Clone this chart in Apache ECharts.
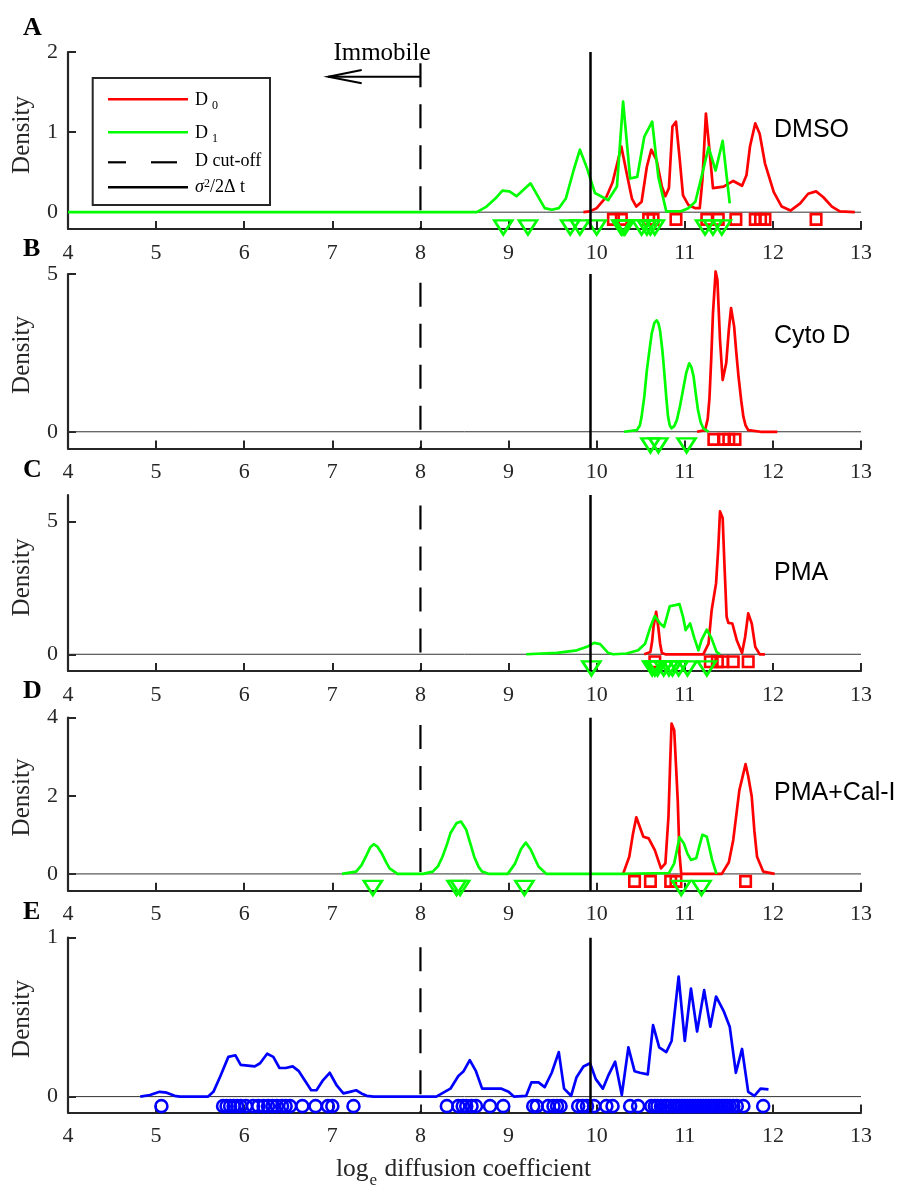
<!DOCTYPE html>
<html><head><meta charset="utf-8">
<script src="https://cdn.jsdelivr.net/npm/echarts@6/dist/echarts.min.js"></script>
<style>html,body{margin:0;padding:0;background:#fff}#c{width:899px;height:1189px}</style>
</head><body><div id="c"></div>
<script>
// ---------------- DATA ----------------
const xTickValues = [4,5,6,7,8,9,10,11,12,13];
const cutoffX = 8;      // D cut-off
const sigmaX = 9.93;    // sigma^2 / 2 Delta t

// Panel A — DMSO
const aD0 = [[9.85,0],[9.92,0.01],[10.0,0.05],[10.11,0.19],[10.18,0.37],[10.28,0.82],[10.34,0.49],[10.40,0.17],[10.45,0.07],[10.51,0.13],[10.57,0.57],[10.62,0.78],[10.68,0.65],[10.74,0.32],[10.78,0.20],[10.82,0.30],[10.86,1.07],[10.90,1.13],[10.94,0.69],[10.98,0.21],[11.04,0.09],[11.12,0.05],[11.17,0.05],[11.20,0.40],[11.24,1.23],[11.28,0.78],[11.32,0.30],[11.44,0.32],[11.55,0.39],[11.65,0.33],[11.70,0.46],[11.74,0.82],[11.80,1.11],[11.85,0.98],[11.91,0.61],[12.01,0.25],[12.10,0.07],[12.20,0.02],[12.31,0.11],[12.40,0.23],[12.49,0.26],[12.57,0.19],[12.67,0.07],[12.76,0.01],[12.93,0]];
const aD1 = [[4,0],[8.64,0],[8.75,0.07],[8.85,0.17],[8.93,0.27],[9.01,0.26],[9.09,0.20],[9.25,0.36],[9.41,0.05],[9.49,0.03],[9.57,0.05],[9.65,0.17],[9.74,0.53],[9.81,0.78],[9.89,0.55],[9.98,0.24],[10.13,0.15],[10.23,0.32],[10.30,1.38],[10.38,0.42],[10.46,0.44],[10.54,0.94],[10.63,1.13],[10.70,0.44],[10.79,0.01],[10.95,0.01],[11.04,0.05],[11.12,0.13],[11.19,0.44],[11.27,0.81],[11.35,0.52],[11.43,0.89],[11.51,0.11]];
const aD0marks = [10.19,10.28,10.59,10.64,10.90,11.25,11.38,11.58,11.80,11.86,11.91,12.49];
const aD1marks = [8.94,9.22,9.70,9.81,10.0,10.28,10.30,10.32,10.51,10.57,10.61,10.66,11.23,11.32,11.42];
const aYTicks = [0,1,2];

// Panel B — Cyto D
const bD0 = [[11.14,0],[11.23,0.05],[11.26,0.4],[11.28,1.06],[11.30,2.3],[11.32,3.76],[11.35,5.08],[11.37,4.82],[11.40,2.91],[11.43,1.64],[11.47,2.17],[11.50,3.23],[11.525,3.92],[11.56,3.34],[11.585,2.5],[11.61,1.75],[11.64,1.0],[11.665,0.48],[11.69,0.2],[11.72,0.05],[11.86,0],[12.05,0]];
const bD1 = [[10.31,0],[10.455,0.05],[10.49,0.2],[10.51,0.48],[10.54,1.1],[10.57,1.96],[10.60,2.6],[10.625,3.12],[10.655,3.45],[10.68,3.53],[10.70,3.45],[10.72,3.2],[10.745,2.6],[10.765,1.96],[10.79,1.1],[10.81,0.48],[10.83,0.2],[10.85,0.11],[10.88,0.18],[10.91,0.37],[10.945,0.8],[10.98,1.32],[11.015,1.85],[11.05,2.17],[11.075,2.05],[11.10,1.75],[11.125,1.2],[11.15,0.69],[11.18,0.3],[11.21,0.11],[11.27,0]];
const bD0marks = [11.33,11.44,11.50,11.57];
const bD1marks = [10.61,10.70,11.02];
const bYTicks = [0,5];

// Panel C — PMA
const cD0 = [[10.54,0],[10.61,0.09],[10.63,0.5],[10.645,1.03],[10.675,1.60],[10.70,1.0],[10.72,0.4],[10.74,0.05],[10.78,0],[11.21,0],[11.27,0.40],[11.305,1.66],[11.355,2.67],[11.38,4.0],[11.40,5.38],[11.43,5.13],[11.45,3.4],[11.475,1.41],[11.495,1.18],[11.54,1.16],[11.59,0.53],[11.65,0.05],[11.685,0.65],[11.72,1.54],[11.76,1.16],[11.80,0.28],[11.85,0],[11.91,0]];
const cD1 = [[9.20,0],[9.55,0.05],[9.775,0.15],[9.89,0.28],[9.97,0.43],[10.04,0.38],[10.13,0.05],[10.19,0],[10.34,0.03],[10.47,0.15],[10.55,0.40],[10.61,1.03],[10.66,1.44],[10.72,1.16],[10.765,1.03],[10.83,1.81],[10.89,1.85],[10.94,1.89],[10.98,1.41],[11.01,0.91],[11.06,1.16],[11.11,0.59],[11.155,0.15],[11.19,0.53],[11.25,0.93],[11.305,0.59],[11.36,0.09],[11.40,0]];
const cD0marks = [10.66,11.29,11.37,11.43,11.55,11.72];
const cD1marks = [9.94,10.63,10.66,10.69,10.76,10.82,10.86,10.93,11.03,11.25];
const cYTicks = [0,5];

// Panel D — PMA+Cal-I
const dD0 = [[10.30,0],[10.37,0.44],[10.41,1.0],[10.45,1.45],[10.49,1.2],[10.53,0.95],[10.59,0.91],[10.66,0.61],[10.73,0.14],[10.78,0.27],[10.815,1.47],[10.835,2.9],[10.85,3.85],[10.88,3.68],[10.90,2.8],[10.92,1.89],[10.94,0.5],[10.96,0],[11.42,0],[11.50,0.3],[11.55,0.87],[11.59,1.6],[11.62,2.15],[11.69,2.81],[11.72,2.5],[11.76,1.98],[11.79,1.1],[11.82,0.44],[11.89,0.06],[12.02,0]];
const dD1 = [[7.11,0],[7.27,0.06],[7.33,0.22],[7.38,0.44],[7.43,0.68],[7.47,0.76],[7.51,0.70],[7.56,0.53],[7.61,0.3],[7.65,0.14],[7.74,0],[8.03,0],[8.14,0.06],[8.20,0.2],[8.25,0.44],[8.30,0.75],[8.34,1.04],[8.41,1.30],[8.46,1.34],[8.52,1.13],[8.57,0.75],[8.61,0.44],[8.66,0.18],[8.70,0.06],[8.78,0],[8.99,0],[9.07,0.25],[9.14,0.63],[9.195,0.80],[9.25,0.63],[9.30,0.38],[9.34,0.19],[9.43,0],[10.30,0],[10.82,0.02],[10.88,0.27],[10.91,0.6],[10.94,0.94],[10.99,0.78],[11.03,0.52],[11.07,0.36],[11.13,0.40],[11.17,0.75],[11.20,1.0],[11.25,0.95],[11.28,0.66],[11.31,0.36],[11.36,0]];
const dD0marks = [10.43,10.61,10.84,10.90,11.69];
const dD1marks = [7.46,8.41,8.45,9.18,10.96,11.19];
const dYTicks = [0,2,4];

// Panel E — all tracks
const eAll = [[4.82,0],[4.93,0.01],[5.04,0.03],[5.12,0.025],[5.21,0.005],[5.27,0],[5.59,0],[5.65,0.03],[5.73,0.13],[5.82,0.25],[5.90,0.26],[5.96,0.20],[6.12,0.19],[6.18,0.21],[6.26,0.27],[6.33,0.25],[6.40,0.18],[6.47,0.18],[6.55,0.19],[6.62,0.16],[6.69,0.10],[6.76,0.04],[6.82,0.04],[6.89,0.10],[6.97,0.15],[7.05,0.07],[7.125,0.02],[7.20,0.03],[7.27,0.04],[7.33,0.02],[7.39,0.005],[7.47,0],[8.18,0],[8.34,0.05],[8.43,0.13],[8.49,0.16],[8.56,0.23],[8.63,0.16],[8.70,0.05],[8.79,0.05],[8.92,0.05],[9.00,0.03],[9.06,0],[9.20,0.005],[9.26,0.09],[9.34,0.09],[9.41,0.06],[9.49,0.15],[9.57,0.28],[9.63,0.05],[9.71,0.005],[9.77,0.12],[9.85,0.19],[9.925,0.21],[9.99,0.11],[10.07,0.05],[10.13,0.13],[10.21,0.22],[10.285,0.01],[10.36,0.31],[10.43,0.16],[10.49,0.15],[10.58,0.14],[10.64,0.45],[10.71,0.31],[10.79,0.28],[10.85,0.35],[10.93,0.755],[11.00,0.35],[11.07,0.68],[11.14,0.41],[11.22,0.67],[11.29,0.44],[11.355,0.63],[11.44,0.54],[11.51,0.44],[11.58,0.15],[11.65,0.30],[11.72,0.03],[11.79,0.005],[11.86,0.05],[11.95,0.045]];
const eMarks = [5.06,5.76,5.80,5.84,5.88,5.92,5.96,6.02,6.10,6.16,6.22,6.27,6.32,6.37,6.43,6.47,6.52,6.66,6.81,6.95,7.00,7.24,8.30,8.43,8.48,8.52,8.58,8.63,8.79,8.94,9.28,9.32,9.45,9.51,9.55,9.59,9.79,9.84,9.89,9.97,10.11,10.18,10.38,10.47,10.62,10.66,10.69,10.73,10.77,10.80,10.84,10.88,10.91,10.94,10.97,11.00,11.03,11.06,11.09,11.12,11.15,11.18,11.21,11.24,11.27,11.30,11.33,11.36,11.39,11.42,11.45,11.48,11.51,11.55,11.59,11.665,11.89];
const eYTicks = [0,1];

const panelLetters = ['A','B','C','D','E'];
const panelNames = ['DMSO','Cyto D','PMA','PMA+Cal-I',''];

// ---------------- LAYOUT / STYLE ----------------
const serif = "'Liberation Serif','Times New Roman',Times,serif";
const sans = "'Liberation Sans',Arial,Helvetica,sans-serif";
const axisCol = '#262626';
const RED = '#ff0000', GREEN = '#00ff00', BLUE = '#0000ff';
const gridLeft = 68, gridWidth = 793;

const panels = [
  {top:52,  height:177, yMin:-0.21, yMax:2, ticks:aYTicks, dashTop:1.86, d0:aD0, d1:aD1, m0:aD0marks, m1:aD1marks, m0y:-0.09, m1y:-0.19, letterY:28.5, nameY:130.5, densY:135},
  {top:274, height:174.5, yMin:-0.53, yMax:5, ticks:bYTicks, dashTop:4.72, d0:bD0, d1:bD1, m0:bD0marks, m1:bD1marks, m0y:-0.24, m1y:-0.43, letterY:249, nameY:336, densY:355},
  {top:495, height:176, yMin:-0.63, yMax:6, ticks:cYTicks, dashTop:5.6, d0:cD0, d1:cD1, m0:cD0marks, m1:cD1marks, m0y:-0.28, m1y:-0.53, letterY:470, nameY:573, densY:577.5},
  {top:717.7, height:173, yMin:-0.43, yMax:4, ticks:dYTicks, dashTop:3.81, d0:dD0, d1:dD1, m0:dD0marks, m1:dD1marks, m0y:-0.19, m1y:-0.36, letterY:691, nameY:793.5, densY:797.5},
  {top:937.7, height:174.8, yMin:-0.1, yMax:1, ticks:eYTicks, dashTop:0.94, all:eAll, mAll:eMarks, mAllY:-0.06, letterY:912, densY:1019}
];
const nameX = 774;

const grids = [], xAxes = [], yAxes = [], series = [], graphics = [];

panels.forEach((p, i) => {
  grids.push({left:gridLeft, width:gridWidth, top:p.top, height:p.height, containLabel:false});
  xAxes.push({
    type:'value', gridIndex:i, min:4, max:13, interval:1,
    axisLine:{show:true, onZero:false, lineStyle:{color:axisCol, width:2.2}},
    axisTick:{show:true, inside:true, length:8, lineStyle:{color:axisCol, width:2}},
    axisLabel:{show:true, fontFamily:serif, fontSize:22, color:axisCol, margin:13, showMinLabel:true, showMaxLabel:true, customValues:xTickValues},
    splitLine:{show:false}
  });
  yAxes.push({
    type:'value', gridIndex:i, min:p.yMin, max:p.yMax,
    axisLine:{show:true, onZero:false, lineStyle:{color:axisCol, width:2.2}},
    axisTick:{show:true, inside:true, length:8, lineStyle:{color:axisCol, width:2}, customValues:p.ticks},
    axisLabel:{show:true, fontFamily:serif, fontSize:22, color:axisCol, margin:10, customValues:p.ticks},
    splitLine:{show:false}
  });
  const base = {xAxisIndex:i, yAxisIndex:i, animation:false, silent:true};
  // thin zero line
  series.push(Object.assign({type:'line', data:[[4,0],[13,0]], symbol:'none', lineStyle:{color:'#333', width:1}, z:1}, base));
  const curve = (data, color, z) => Object.assign({type:'line', data, symbol:'none', showSymbol:false, clip:false, lineStyle:{color, width:2.7, join:'round'}, z}, base);
  const marks = (xs, y, symbol, size, color, rot) => Object.assign({type:'scatter', data:xs.map(x => [x, y]), symbol, symbolSize:size, symbolRotate:rot||0, clip:false,
      itemStyle:{color:'rgba(0,0,0,0)', borderColor:color, borderWidth:2.6, opacity:1}, z:6}, base);
  if (p.all) {
    series.push(curve(p.all, BLUE, 3));
    series.push(marks(p.mAll, p.mAllY, 'circle', 12, BLUE));
  } else {
    series.push(curve(p.d0, RED, 3));
    series.push(curve(p.d1, GREEN, 4));
    series.push(marks(p.m0, p.m0y, 'rect', 10.5, RED));
    series.push(marks(p.m1, p.m1y, 'triangle', [18,14], GREEN, 180));
  }
  // vertical reference lines
  series.push(Object.assign({type:'line', data:[[cutoffX, p.dashTop],[cutoffX, p.yMin]], symbol:'none', clip:false,
      lineStyle:{color:'#000', width:2.2, type:[24,17]}, z:7}, base));
  series.push(Object.assign({type:'line', data:[[sigmaX, p.yMin],[sigmaX, p.yMax]], symbol:'none', clip:false,
      lineStyle:{color:'#000', width:2.5}, z:7}, base));

  // panel letter
  graphics.push({type:'text', x:23, y:p.letterY, z:20, style:{text:panelLetters[i], font:"bold 26px "+serif, fill:'#000', align:'left', verticalAlign:'middle'}});
  // condition name
  if (panelNames[i]) graphics.push({type:'text', x:nameX, y:p.nameY, z:20, style:{text:panelNames[i], font:"25px "+sans, fill:'#000', align:'left', verticalAlign:'middle'}});
  // y label
  graphics.push({type:'text', x:22.5, y:p.densY, rotation:Math.PI/2, z:20, style:{text:'Density', font:"25px "+serif, fill:axisCol, align:'center', verticalAlign:'middle'}});
});

// legend box (panel A)
graphics.push({type:'rect', z:30, shape:{x:92.7, y:78, width:177.3, height:127}, style:{fill:'#fff', stroke:axisCol, lineWidth:2}});
graphics.push({type:'line', z:31, shape:{x1:108, y1:99.3, x2:188, y2:99.3}, style:{stroke:RED, lineWidth:2.6}});
graphics.push({type:'line', z:31, shape:{x1:108, y1:132.3, x2:188, y2:132.3}, style:{stroke:GREEN, lineWidth:2.6}});
graphics.push({type:'line', z:31, shape:{x1:108, y1:162.3, x2:126, y2:162.3}, style:{stroke:'#000', lineWidth:2.2}});
graphics.push({type:'line', z:31, shape:{x1:151, y1:162.3, x2:177, y2:162.3}, style:{stroke:'#000', lineWidth:2.2}});
graphics.push({type:'line', z:31, shape:{x1:108, y1:187.3, x2:188, y2:187.3}, style:{stroke:'#000', lineWidth:2.5}});
const legRich = {
  m:{fontFamily:serif, fontSize:18, lineHeight:20, verticalAlign:'top', fill:'#000'},
  sub:{fontFamily:serif, fontSize:12, lineHeight:12, padding:[9,0,0,4], verticalAlign:'top', fill:'#000'},
  sup:{fontFamily:serif, fontSize:12, lineHeight:12, verticalAlign:'top', fill:'#000'},
  it:{fontFamily:serif, fontSize:18, fontStyle:'italic', lineHeight:20, verticalAlign:'top', fill:'#000'}
};
graphics.push({type:'text', z:32, x:195, y:101, style:{text:'{m|D}{sub|0}', rich:legRich, verticalAlign:'middle', align:'left'}});
graphics.push({type:'text', z:32, x:195, y:134, style:{text:'{m|D}{sub|1}', rich:legRich, verticalAlign:'middle', align:'left'}});
graphics.push({type:'text', z:32, x:195, y:162.5, style:{text:'{m|D cut-off}', rich:legRich, verticalAlign:'middle', align:'left'}});
graphics.push({type:'text', z:32, x:195, y:188, style:{text:'{it|σ}{sup|2}{m|/2Δ t}', rich:legRich, verticalAlign:'middle', align:'left'}});

// Immobile annotation
graphics.push({type:'text', z:20, x:382, y:53.5, style:{text:'Immobile', font:"25px "+serif, fill:'#000', align:'center', verticalAlign:'middle'}});
graphics.push({type:'line', z:20, shape:{x1:420, y1:76.7, x2:328, y2:76.7}, style:{stroke:'#000', lineWidth:2}});
graphics.push({type:'polyline', z:20, shape:{points:[[361.7,70],[328.3,76.7],[361.7,83.3]]}, style:{stroke:'#000', lineWidth:2, fill:null}});

// x-axis title
graphics.push({type:'text', z:20, x:463.5, y:1156.5, style:{
  text:'{m|log}{s|e}{m| diffusion coefficient}', align:'center', verticalAlign:'top',
  rich:{m:{fontFamily:serif, fontSize:25.5, lineHeight:30, verticalAlign:'top', fill:axisCol},
        s:{fontFamily:serif, fontSize:17, lineHeight:17, padding:[16,1,0,1], verticalAlign:'top', fill:axisCol}}
}});

const chart = echarts.init(document.getElementById('c'), null, {renderer:'canvas'});
chart.setOption({
  animation:false,
  backgroundColor:'#fff',
  grid:grids, xAxis:xAxes, yAxis:yAxes, series:series, graphic:graphics
});
</script>
</body></html>
